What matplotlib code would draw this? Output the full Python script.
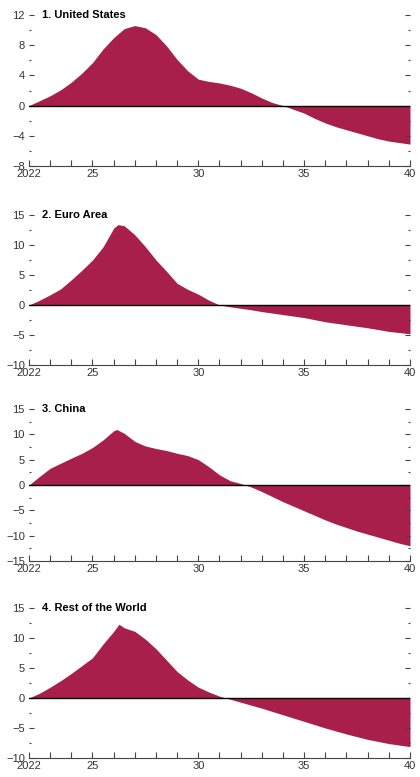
import matplotlib
matplotlib.use("Agg")
import matplotlib.pyplot as plt
from matplotlib.ticker import MultipleLocator, FixedLocator, FixedFormatter

plt.rcParams['font.family'] = ['Liberation Sans Narrow', 'Liberation Sans', 'DejaVu Sans']

years = [2022 + 0.5 * i for i in range(37)]

us = [0.0, 0.65, 1.3, 2.1, 3.1, 4.3, 5.7, 7.5, 9.0, 10.2, 10.6, 10.3, 9.4, 7.9, 6.1, 4.6,
      3.5, 3.2, 3.0, 2.7, 2.3, 1.7, 1.0, 0.4, 0.0, -0.5, -1.0, -1.7, -2.3, -2.8, -3.2,
      -3.6, -4.0, -4.4, -4.7, -4.9, -5.1]
euro = [0.0, 0.8, 1.7, 2.7, 4.2, 5.8, 7.5, 9.7, 12.8, 13.2, 11.7, 9.7, 7.5, 5.6, 3.6, 2.6,
        1.8, 0.8, 0.0, -0.3, -0.55, -0.8, -1.1, -1.35, -1.6, -1.85, -2.1, -2.45, -2.8,
        -3.05, -3.3, -3.55, -3.8, -4.1, -4.4, -4.6, -4.8]
china = [0.0, 1.7, 3.3, 4.3, 5.3, 6.25, 7.4, 8.9, 10.7, 10.2, 8.6, 7.7, 7.2, 6.8, 6.25,
         5.8, 5.0, 3.6, 2.0, 0.85, 0.3, -0.4, -1.3, -2.3, -3.3, -4.2, -5.1, -6.0, -6.9,
         -7.7, -8.4, -9.1, -9.7, -10.3, -10.9, -11.5, -12.0]
row = [0.0, 0.8, 1.8, 2.9, 4.1, 5.4, 6.7, 9.0, 11.1, 11.7, 11.1, 9.8, 8.2, 6.3, 4.4, 3.0,
       1.8, 1.0, 0.3, -0.2, -0.7, -1.2, -1.7, -2.25, -2.8, -3.35, -3.9, -4.45, -5.0,
       -5.5, -6.0, -6.45, -6.9, -7.25, -7.6, -7.85, -8.1]

# insert peaks
peak_x = {"us": None, "euro": (2026.2, 13.4), "china": (2026.15, 10.95), "row": (2026.25, 12.3)}

titles = ["1. United States", "2. Euro Area", "3. China", "4. Rest of the World"]
series = [us, euro, china, row]
peaks = [None, peak_x["euro"], peak_x["china"], peak_x["row"]]
ylims = [(-8, 12), (-10, 15), (-15, 15), (-10, 15)]
ymajor = [4, 5, 5, 5]
yminor = [2, 2.5, 2.5, 2.5]
xmajor = [2022, 2025, 2030, 2035, 2040]
xlabels = ["2022", "25", "30", "35", "40"]

# axes boxes in figure fraction [left, bottom, width, height]
W, H = 420, 777
boxes_px = [(15, 166), (215, 365), (409, 561), (608, 758)]

fill_color = "#A81F4B"

fig = plt.figure(figsize=(4.2, 7.77), dpi=100)
for (top, bot), title, vals, pk, yl, ym, yn in zip(boxes_px, titles, series, peaks, ylims, ymajor, yminor):
    ax = fig.add_axes([29 / W, 1 - bot / H, 381 / W, (bot - top) / H])
    xs = list(years)
    ys = list(vals)
    if pk is not None:
        idx = next(i for i, x in enumerate(xs) if x > pk[0])
        xs.insert(idx, pk[0])
        ys.insert(idx, pk[1])
    ax.fill_between(xs, ys, 0, color=fill_color, linewidth=0, interpolate=True)
    ax.axhline(0, color="black", linewidth=1.0, zorder=3)
    ax.set_xlim(2022, 2040)
    ax.set_ylim(*yl)
    for s in ["top", "left", "right"]:
        ax.spines[s].set_visible(False)
    ax.spines["bottom"].set_color("#444444")
    ax.spines["bottom"].set_linewidth(0.8)
    ax.xaxis.set_major_locator(FixedLocator(xmajor))
    ax.xaxis.set_major_formatter(FixedFormatter(xlabels))
    ax.xaxis.set_minor_locator(MultipleLocator(1))
    ax.yaxis.set_major_locator(MultipleLocator(ym))
    ax.yaxis.set_minor_locator(MultipleLocator(yn))
    ax.tick_params(axis="x", which="both", direction="in", length=4, width=0.8,
                   color="#444444", labelsize=8, pad=2, labelcolor="#333333")
    ax.tick_params(axis="y", which="major", direction="in", length=3.5, width=0.8,
                   color="#444444", labelsize=8, pad=3, left=True, right=True,
                   labelcolor="#333333")
    ax.tick_params(axis="y", which="minor", direction="in", length=1.5, width=0.8,
                   color="#444444", left=True, right=True)
    ax.text(13 / 381, 1.0, title, transform=ax.transAxes, fontsize=8, fontweight="bold",
            va="center", ha="left", family=["Liberation Sans", "DejaVu Sans"])

fig.savefig("out.png", dpi=100)
